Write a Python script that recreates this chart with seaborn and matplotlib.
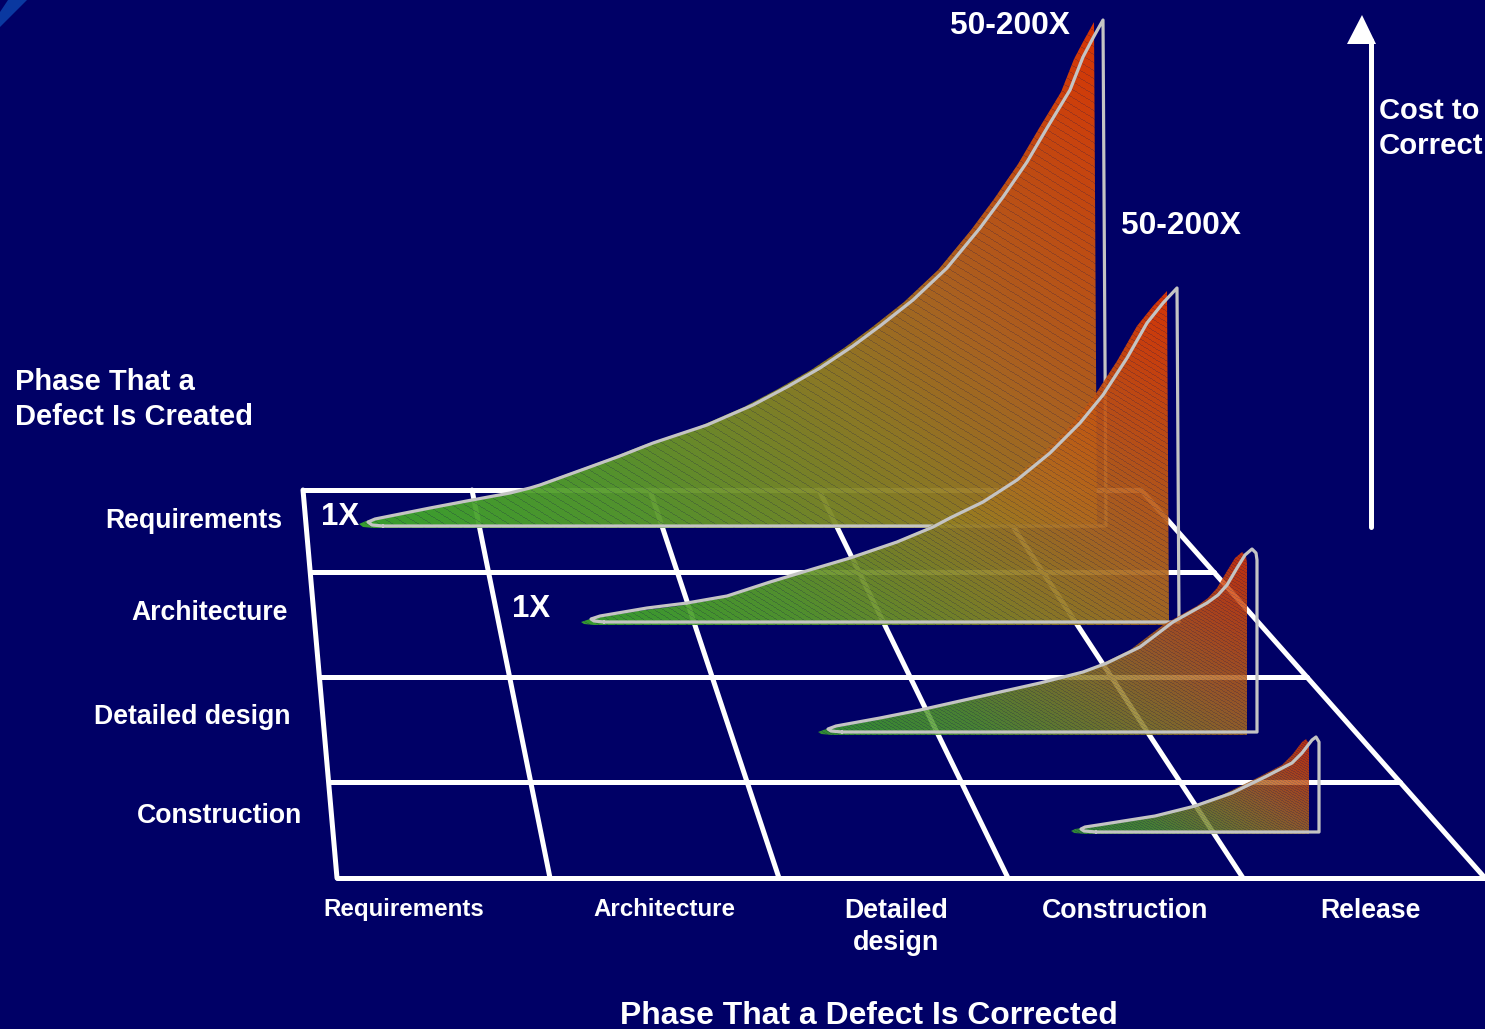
import numpy as np
import pandas as pd
import matplotlib
matplotlib.use("Agg")
import matplotlib.pyplot as plt
from matplotlib.patches import Polygon
import seaborn as sns

# Phase names shown on the two floor axes
created_phases = ["Requirements", "Architecture", "Detailed design", "Construction"]
corrected_phases = ["Requirements", "Architecture", "Detailed\ndesign", "Construction", "Release"]

# Cost curves: distance along the corrected-phase axis and height above the floor
req_span = [15, 4, 0, 7, 32, 62, 104, 142, 162, 172, 219, 252, 285, 339, 385, 419, 452, 485,
            512, 545, 579, 612, 635, 659, 679, 702, 715, 725, 735, 738]
req_cost = [0, 1, 4, 7, 12, 18, 26, 33, 38, 41, 58, 70, 83, 101, 121, 139, 158, 180,
            200, 226, 258, 298, 329, 364, 398, 436, 469, 488, 506, 0]
arch_span = [13, 3, 0, 9, 56, 96, 136, 179, 222, 259, 306, 342, 359, 392, 426, 459, 489,
             512, 536, 556, 572, 586, 588]
arch_cost = [0, 1, 3, 6, 14, 19, 26, 40, 53, 64, 80, 95, 104, 120, 142, 169, 199,
             227, 264, 299, 319, 334, 0]
design_span = [14, 3, 0, 8, 52, 92, 172, 212, 255, 279, 312, 345, 379, 390, 399, 409, 417,
               424, 428, 429, 429]
design_cost = [0, 1, 3, 6, 14, 22, 40, 49, 60, 69, 85, 110, 129, 137, 147, 164, 177,
               183, 179, 172, 0]
constr_span = [15, 3, 0, 4, 17, 74, 114, 151, 184, 211, 221, 231, 235, 238, 238]
constr_cost = [0, 1, 3, 5, 7, 16, 26, 39, 55, 69, 79, 92, 95, 90, 0]

# Cost multipliers printed beside the curves
low_labels = ["1X", "1X"]
high_labels = ["50-200X", "50-200X"]

WIDTH, HEIGHT = 1485, 1029
NAVY = "#000066"
OUTLINE = "#c4c4c4"
FONT = "Liberation Sans"

sns.set_theme(style="white")
plt.rcParams["font.family"] = [FONT, "DejaVu Sans"]

fig = plt.figure(figsize=(WIDTH / 100, HEIGHT / 100), dpi=100, facecolor=NAVY)
ax = fig.add_axes([0, 0, 1, 1])

# Corner ornament
ax.add_patch(Polygon([(8, 0), (27, 0), (0, 27), (0, 12)], closed=True,
                     facecolor="#0a38a0", edgecolor="none", zorder=1))

# Floor grid in perspective: straight lines between the back and the front edge
back_y, front_y = 490, 878
row_y = [490, 572, 677, 782, 878]
col_back = [303, 472, 650, 819, 989, 1141]
col_front = [337, 550, 779, 1008, 1243, 1485]


def col_x(col, y):
    t = (y - back_y) / (front_y - back_y)
    return col_back[col] + t * (col_front[col] - col_back[col])


segments = []
for i, y in enumerate(row_y):
    segments.append(pd.DataFrame({"x": [col_x(0, y), col_x(5, y)], "y": [y, y], "line": f"r{i}"}))
for c in range(len(col_back)):
    segments.append(pd.DataFrame({"x": [col_back[c], col_front[c]], "y": [back_y, front_y], "line": f"c{c}"}))
grid = pd.concat(segments, ignore_index=True)
sns.lineplot(data=grid, x="x", y="y", units="line", estimator=None, sort=False, color="white",
             linewidth=3.6, legend=False, ax=ax, zorder=1.5, solid_capstyle="round")

# Colour ramp of the wedges, from low cost green to high cost red
ramp_pos = np.array([0.0, 0.25, 0.5, 0.65, 1.0])
ramp_rgb = np.array([[58, 168, 44], [88, 155, 42], [146, 128, 34], [176, 106, 30], [228, 56, 0]],
                    dtype=float) / 255


def wedge_image(poly, pitch, opacity):
    x0, y0 = np.floor(poly.min(axis=0)).astype(int)
    x1, y1 = np.ceil(poly.max(axis=0)).astype(int)
    xs, ys = np.meshgrid(np.arange(x0, x1) + 0.5, np.arange(y0, y1) + 0.5)
    u = (xs - x0) / (x1 - x0)
    v = (y1 - ys) / (y1 - y0)
    t = np.clip(0.62 * u + 0.38 * v, 0, 1)
    rgba = np.zeros(xs.shape + (4,))
    for k in range(3):
        rgba[..., k] = np.interp(t, ramp_pos, ramp_rgb[:, k])
    # Fine diagonal shading lines
    phase = ((ys - 0.62 * xs) / pitch) % 1.0
    on_line = phase < 1.0 / pitch
    rgba[on_line, :3] = rgba[on_line, :3] * 0.76 + np.array([0.1, 0.1, 0.3]) * 0.24
    rgba[..., 3] = opacity
    return rgba, (x0, x1, y1, y0)


curves = [
    (req_span, req_cost, 368, 526, 9, 2, 8.0, 0.95),
    (arch_span, arch_cost, 591, 622, 10, 3, 5.5, 0.93),
    (design_span, design_cost, 828, 732, 10, 3, 3.4, 0.84),
    (constr_span, constr_cost, 1081, 832, 10, 2, 2.6, 0.82),
]

for n, (span, cost, x_org, y_base, dx, dy, pitch, opacity) in enumerate(curves):
    xs = x_org + np.array(span, dtype=float)
    ys = y_base - np.array(cost, dtype=float)
    poly = np.column_stack([xs - dx, ys + dy])
    rgba, extent = wedge_image(poly, pitch, opacity)
    im = ax.imshow(rgba, extent=extent, aspect="auto", interpolation="nearest", zorder=3 + 2 * n)
    im.set_clip_path(Polygon(poly, closed=True, transform=ax.transData))

    # Closed outline sitting slightly behind the coloured wedge
    closed = pd.DataFrame({"x": np.append(xs, xs[0]), "y": np.append(ys, ys[0])})
    sns.lineplot(data=closed, x="x", y="y", estimator=None, sort=False, color=OUTLINE,
                 linewidth=2.3, legend=False, ax=ax, zorder=4 + 2 * n,
                 solid_joinstyle="round", solid_capstyle="round")

# Cost axis arrow
shaft = pd.DataFrame({"x": [1371, 1371], "y": [527, 40]})
sns.lineplot(data=shaft, x="x", y="y", estimator=None, sort=False, color="white",
             linewidth=3.6, legend=False, ax=ax, zorder=2, solid_capstyle="round")
ax.add_patch(Polygon([(1347, 44), (1376, 44), (1362, 15)], closed=True,
                     facecolor="white", edgecolor="none", zorder=2))


def label(x, y, s, size, ha="left"):
    ax.text(x, y, s, color="white", fontsize=size, fontweight="bold", family=FONT,
            ha=ha, va="baseline", zorder=30)


# Row labels
for name, xr, yb in zip(created_phases, [282, 288, 290, 302], [528, 620, 724, 823]):
    label(xr, yb, name, 19.2, ha="right")

# Column labels
label(404, 916, corrected_phases[0], 17.4, ha="center")
label(664, 916, corrected_phases[1], 17.4, ha="center")
first, second = corrected_phases[2].split("\n")
label(896.5, 918, first, 19.3, ha="center")
label(896.5, 950, second, 19.3, ha="center")
label(1125, 918, corrected_phases[3], 19.3, ha="center")
label(1370.5, 918, corrected_phases[4], 19.2, ha="center")

# Axis captions
label(15, 390, "Phase That a", 21.0)
label(15, 425, "Defect Is Created", 21.0)
label(1379, 119, "Cost to", 21.0)
label(1379, 154, "Correct", 21.2)
label(869, 1024, "Phase That a Defect Is Corrected", 22.95, ha="center")

# Multipliers
label(321, 525, low_labels[0], 22.4)
label(512, 617, low_labels[1], 22.4)
label(950, 34, high_labels[0], 22.9)
label(1121, 234, high_labels[1], 22.9)

ax.set_xlim(0, WIDTH)
ax.set_ylim(HEIGHT, 0)
ax.set_axis_off()

fig.savefig("out.png", dpi=100, facecolor=NAVY)
